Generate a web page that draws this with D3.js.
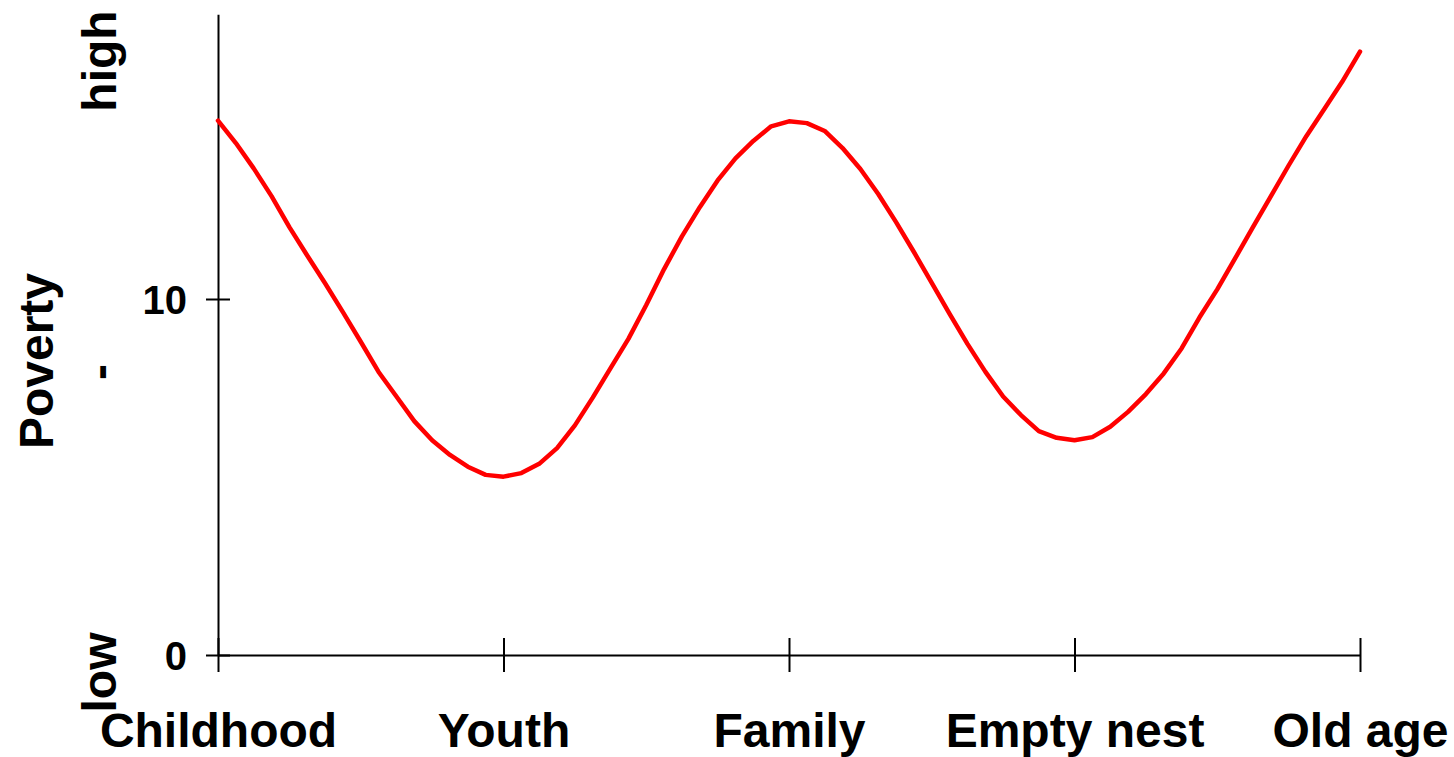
<!DOCTYPE html>
<html>
<head>
<meta charset="utf-8">
<script src="https://cdn.jsdelivr.net/npm/d3@7"></script>
<style>
  html, body { margin: 0; padding: 0; background: #fff; }
  svg { display: block; }
  text { font-family: "Liberation Sans", Arial, sans-serif; font-weight: bold; fill: #000; }
</style>
</head>
<body>
<svg id="chart" width="1454" height="757"></svg>
<script>
// ---- data ----
const categories = ["Childhood", "Youth", "Family", "Empty nest", "Old age"];
const yTicks = [0, 10];
const stepsPerCategory = 16;
const povertyValues = [
  15.01, 14.38, 13.67, 12.89, 12.02, 11.22, 10.44, 9.63, 8.80, 7.95, 7.26, 6.57, 6.03, 5.62, 5.29, 5.06,
  5.01, 5.11, 5.37, 5.81, 6.45, 7.23, 8.06, 8.88, 9.83, 10.84, 11.76, 12.58, 13.33, 13.95, 14.44, 14.85,
  14.99, 14.94, 14.72, 14.24, 13.65, 12.95, 12.16, 11.32, 10.45, 9.58, 8.74, 7.96, 7.26, 6.74, 6.29, 6.10,
  6.03, 6.12, 6.41, 6.83, 7.33, 7.91, 8.61, 9.48, 10.27, 11.14, 12.02, 12.88, 13.75, 14.58, 15.34, 16.10,
  16.95
];
const yTitle = "Poverty";
const yLowLabel = "low";
const yMidLabel = "-";
const yHighLabel = "high";

// ---- layout ----
const svg = d3.select("#chart");
const x = d3.scaleLinear().domain([0, categories.length - 1]).range([218, 1360]);
const y = d3.scaleLinear().domain([0, 18]).range([655, 14.2]);

// x axis
const xAxis = d3.axisBottom(x)
  .tickValues(d3.range(categories.length))
  .tickFormat(i => categories[i])
  .tickSize(17)
  .tickSizeOuter(0);
const gx = svg.append("g").attr("transform", `translate(0,${y(0)})`).call(xAxis);
gx.select(".domain").attr("stroke", "#000").attr("stroke-width", 2);
gx.selectAll(".tick line").attr("y1", -17).attr("y2", 17).attr("stroke", "#000").attr("stroke-width", 2);
gx.selectAll(".tick text")
  .attr("y", 92).attr("dy", 0)
  .style("font-size", "48px").style("font-family", "'Liberation Sans', Arial, sans-serif").style("font-weight", "bold")
  .attr("fill", "#000");

// y axis
const yAxis = d3.axisLeft(y).tickValues(yTicks).tickSize(12).tickSizeOuter(0).tickFormat(d3.format("d"));
const gy = svg.append("g").attr("transform", `translate(${x(0)},0)`).call(yAxis);
gy.select(".domain").attr("stroke", "#000").attr("stroke-width", 2);
gy.selectAll(".tick line").attr("x1", -12).attr("x2", 12).attr("stroke", "#000").attr("stroke-width", 2);
gy.selectAll(".tick text")
  .attr("x", -31).attr("dy", "0.36em")
  .style("font-size", "40px").style("font-family", "'Liberation Sans', Arial, sans-serif").style("font-weight", "bold")
  .attr("fill", "#000");

// y axis titles
function rotLabel(txt, bx, cy, size) {
  svg.append("text")
    .attr("transform", `translate(${bx},${cy}) rotate(-90)`)
    .attr("text-anchor", "middle")
    .style("font-size", size + "px")
    .text(txt);
}
rotLabel(yTitle, 53, 361, 48);
rotLabel(yHighLabel, 116, 61, 48);
rotLabel(yMidLabel, 116, 372, 48);
rotLabel(yLowLabel, 116, 672.5, 48);

// curve
const line = d3.line()
  .x((d, i) => x(i / stepsPerCategory))
  .y(d => y(d));
svg.append("path")
  .datum(povertyValues)
  .attr("d", line)
  .attr("fill", "none")
  .attr("stroke", "#ff0000")
  .attr("stroke-width", 4.5)
  .attr("stroke-linejoin", "round")
  .attr("stroke-linecap", "round");
</script>
</body>
</html>
